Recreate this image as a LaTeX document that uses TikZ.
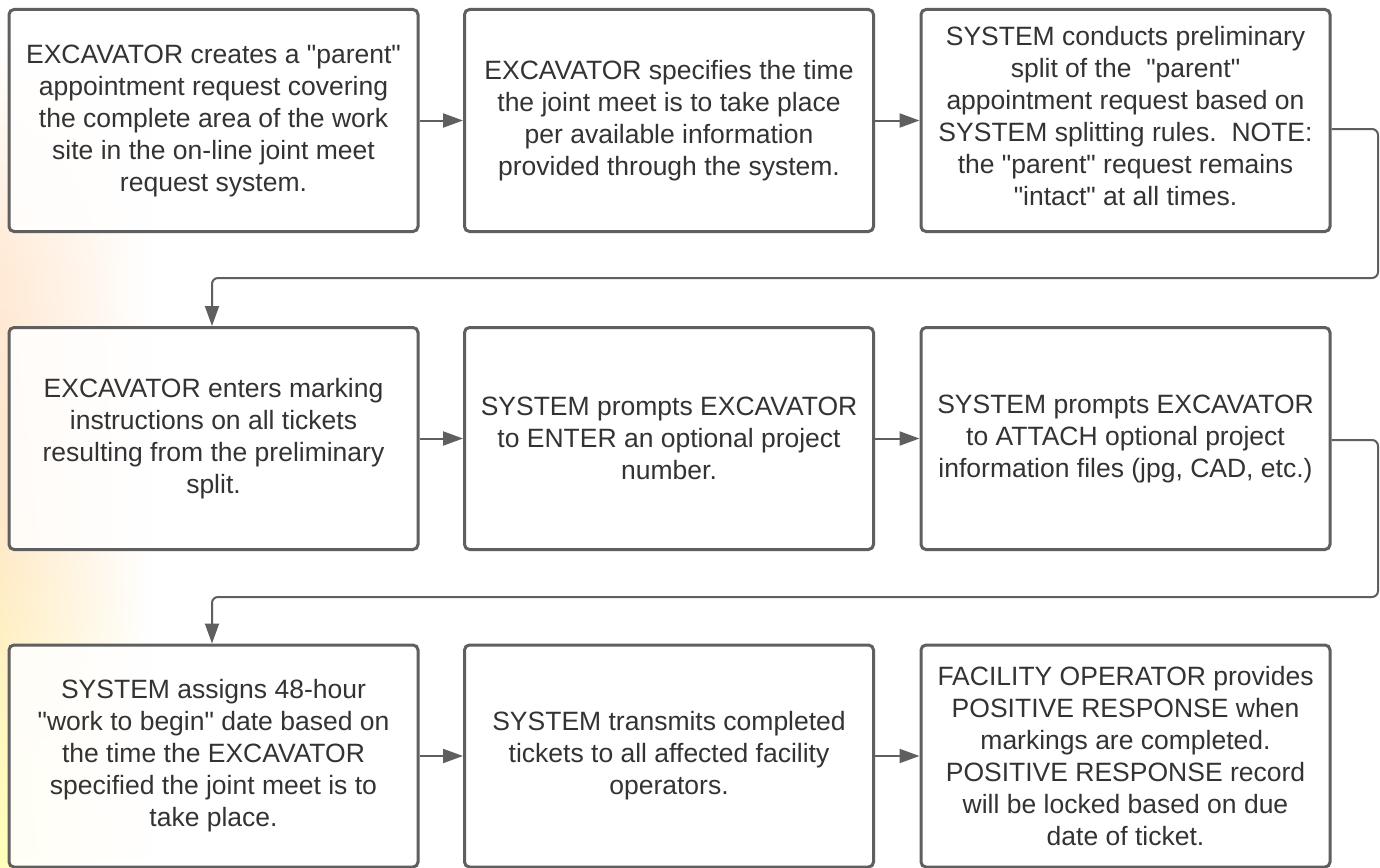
\documentclass[tikz,border=0pt]{standalone}
\usepackage{fontspec}
\setmainfont{Liberation Sans}[Ligatures=TeXOff]
\usetikzlibrary{arrows.meta,fadings}
\definecolor{edge}{HTML}{5F5F5F}
\definecolor{txt}{HTML}{333333}
\begin{document}
\begin{tikzpicture}[x=1pt,y=-1pt,
  stepbox/.style={draw=edge, line width=3pt, rounded corners=5pt, fill=white, fill opacity=0.85, text opacity=1,
    minimum width=409pt, minimum height=222pt, inner sep=0pt, align=center, text=txt,
    font=\fontsize{26.5}{32}\selectfont},
  conn/.style={draw=edge, line width=2pt, -{Triangle[length=20pt,width=14pt]}},
  route/.style={draw=edge, line width=2pt, rounded corners=6pt, -{Triangle[length=20pt,width=14pt]}}]
\useasboundingbox (0,0) rectangle (1380,867);
\fill[white] (0,0) rectangle (1380,867);
\shade[top color=white, bottom color=orange!20, middle color=orange!16, path fading=east] (0,40) rectangle (150,480);
\shade[top color=orange!20, bottom color=yellow!28, path fading=east] (0,480) rectangle (150,867);
\node[stepbox] (b1) at (213.5,120.5) {EXCAVATOR creates a "parent"\\appointment request covering\\the complete area of the work\\site in the on-line joint meet\\request system.};
\node[stepbox] (b2) at (669,120.5) {EXCAVATOR specifies the time\\the joint meet is to take place\\per available information\\provided through the system.};
\node[stepbox] (b3) at (1125.5,120.5) {SYSTEM conducts preliminary\\split of the \ "parent"\\appointment request based on\\SYSTEM splitting rules.\ \ NOTE:\\the "parent" request remains\\"intact" at all times.\\[-23pt]};
\node[stepbox] (b4) at (213.5,438.5) {EXCAVATOR enters marking\\instructions on all tickets\\resulting from the preliminary\\split.};
\node[stepbox] (b5) at (669,438.5) {SYSTEM prompts EXCAVATOR\\to ENTER an optional project\\number.};
\node[stepbox] (b6) at (1125.5,438.5) {SYSTEM prompts EXCAVATOR\\to ATTACH optional project\\information files (jpg, CAD, etc.)};
\node[stepbox] (b7) at (213.5,756) {SYSTEM assigns 48-hour\\"work to begin" date based on\\the time the EXCAVATOR\\specified the joint meet is to\\take place.};
\node[stepbox] (b8) at (669,756) {SYSTEM transmits completed\\tickets to all affected facility\\operators.};
\node[stepbox] (b9) at (1125.5,756) {FACILITY OPERATOR provides\\POSITIVE RESPONSE when\\markings are completed.\\POSITIVE RESPONSE record\\will be locked based on due\\date of ticket.};
\draw[conn] (b1.east) -- (b2.west);
\draw[conn] (b2.east) -- (b3.west);
\draw[conn] (b4.east) -- (b5.west);
\draw[conn] (b5.east) -- (b6.west);
\draw[conn] (b7.east) -- (b8.west);
\draw[conn] (b8.east) -- (b9.west);
\draw[route] (b3.east |- 0,129) -- (1378,129) -- (1378,278) -- (212,278) -- (b4.north -| 212,0);
\draw[route] (b6.east |- 0,440) -- (1378,440) -- (1378,597) -- (212,597) -- (b7.north -| 212,0);
\end{tikzpicture}
\end{document}
